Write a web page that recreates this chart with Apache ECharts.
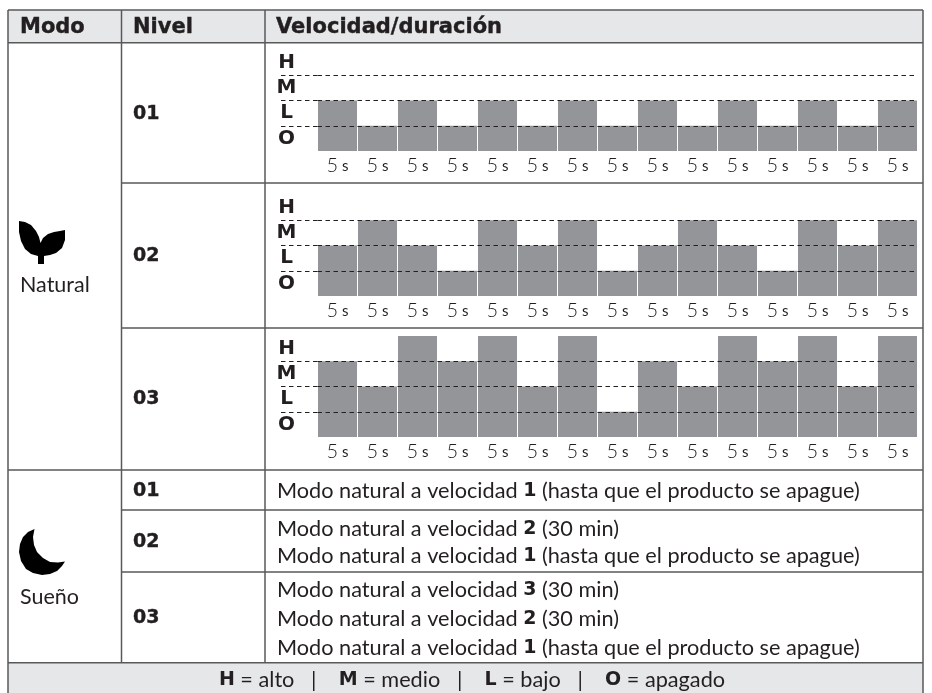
<!DOCTYPE html>
<html><head><meta charset="utf-8">
<style>html,body{margin:0;padding:0;background:#fff}#c{width:932px;height:693px}</style>
<script src="https://cdn.jsdelivr.net/npm/echarts@6/dist/echarts.min.js"></script>
</head><body><div id="c"></div>
<script>
// Data
const intervals = ['5 s','5 s','5 s','5 s','5 s','5 s','5 s','5 s','5 s','5 s','5 s','5 s','5 s','5 s','5 s'];
const speedLevels = ['O','L','M','H'];
const natural01 = [2,1,2,1,2,1,2,1,2,1,2,1,2,1,2];
const natural02 = [2,3,2,1,3,2,3,1,2,3,2,1,3,2,3];
const natural03 = [3,2,4,3,4,2,4,1,3,2,4,3,4,2,4];
const headers = ['Modo','Nivel','Velocidad/duración'];
const levelNames = ['01','02','03'];
const sueno01 = [['Modo natural a velocidad ','1',' (hasta que el producto se apague)']];
const sueno02 = [['Modo natural a velocidad ','2',' (30 min)'],['Modo natural a velocidad ','1',' (hasta que el producto se apague)']];
const sueno03 = [['Modo natural a velocidad ','3',' (30 min)'],['Modo natural a velocidad ','2',' (30 min)'],['Modo natural a velocidad ','1',' (hasta que el producto se apague)']];

const REG = 'Lato, "Noto Sans", sans-serif';
const BOLD = '"DejaVu Sans", sans-serif';
const INK = '#231f20', RULE = '#58595b', BAR = '#939598', FILL = '#e6e7e8';
const DASH = [4.5,3.5];

const chart = echarts.init(document.getElementById('c'), null, {renderer:'canvas'});

// panel geometry
const panels = [
  {data:natural01, top:50, bottom:151},
  {data:natural02, top:195, bottom:296},
  {data:natural03, top:336, bottom:437}
];
const grid=[], xAxis=[], yAxis=[], series=[];
panels.forEach((p,i)=>{
  grid.push({left:317.5, width:600, top:p.top, height:p.bottom-p.top, containLabel:false});
  xAxis.push({type:'category', gridIndex:i, data:intervals,
    axisLine:{show:false}, axisTick:{show:false},
    axisLabel:{show:true, interval:0, margin:5, color:INK, fontFamily:REG, fontSize:15, fontWeight:300,
      formatter:v=>{const a=v.split(' ');return '{n|'+a[0]+'} {s|'+a[1]+'}';},
      rich:{n:{fontFamily:REG,fontSize:20,fontWeight:300,color:INK},s:{fontFamily:REG,fontSize:15,fontWeight:400,color:INK}}}});
  // value axis: level scale, dashed rules
  yAxis.push({type:'value', gridIndex:i, min:0, max:4, interval:1, z:5,
    axisLine:{show:false}, axisLabel:{show:false},
    axisTick:{show:true, length:40, customValues:[1,2,3], lineStyle:{color:INK,type:DASH,width:1}},
    splitLine:{show:true, showMinLine:true, showMaxLine:true, lineStyle:{color:INK,type:DASH,width:1}}});
  // category axis: the H M L O labels
  yAxis.push({type:'category', gridIndex:i, data:speedLevels, position:'left', offset:31,
    axisLine:{show:false}, axisTick:{show:false}, splitLine:{show:false},
    axisLabel:{show:true, interval:0, hideOverlap:false, margin:0, width:16, align:'center', color:INK, fontFamily:BOLD, fontWeight:'bold', fontSize:20, lineHeight:20, padding:[4,0,0,0]}});
  series.push({type:'bar', xAxisIndex:i, yAxisIndex:i*2, data:p.data, barCategoryGap:'2.5%',
    itemStyle:{color:BAR}, silent:true, animation:false});
});

// Table framework and text
const g=[];
function rule(x1,y1,x2,y2,w){g.push({type:'line',shape:{x1,y1,x2,y2},style:{stroke:RULE,lineWidth:w||1.5},z:20,silent:true});}
function box(x,y,w,h,fill){g.push({type:'rect',shape:{x,y,width:w,height:h},style:{fill},z:-10,silent:true});}
function text(x,y,t,font,size,weight,heavy){g.push({type:'text',x,y,z:20,silent:true,style:{text:t,fill:INK,fontFamily:font,fontSize:size,fontWeight:weight||'normal',align:'left',verticalAlign:'middle',stroke:heavy?INK:null,lineWidth:heavy?0.4:0}});}

box(8,10,915,33,FILL);
box(8,663,915,30,FILL);
const L=8,R=923,C1=121.5,C2=265;
[10,42.7,470,662.7].forEach(y=>rule(L,y,R,y));
[183,328,510,572].forEach(y=>rule(C1,y,R,y));
rule(L,10,L,693);rule(R,10,R,693);
rule(C1,10,C1,662.7);rule(C2,10,C2,662.7);

text(20,28,headers[0],BOLD,21,'bold',true);
text(133,28,headers[1],BOLD,21,'bold',true);
text(276,28,headers[2],BOLD,21,'bold',true);
[114,256,399].forEach((y,i)=>text(133,y,levelNames[i],BOLD,19,'bold',true));
[491,542,618].forEach((y,i)=>text(133,y,levelNames[i],BOLD,19,'bold',true));
text(20,285,'Natural',REG,21.5,400);
text(20,597,'Sueño',REG,21.5,400);

// icons
g.push({type:'polygon',z:20,silent:true,shape:{points:[[19,221],[25,222],[31,225],[36,231],[39,237],[40.5,243],[43,238],[48,234],[54,232],[60,231],[65,230],[65,240],[62,248],[56,253],[50,255],[44,256],[44,264],[38,264],[38,256],[31,254],[25,249],[21,241],[19,232]]},style:{fill:'#000'}});
g.push({type:'polygon',z:20,silent:true,shape:{points:[[34.5,529],[28,532],[23,537],[20,544],[19,552],[21,561],[26,569],[33,573],[42,575],[50,574],[57,571],[62,566],[65,561.5],[58,562.5],[50,562],[43,558],[37,552],[34,545],[33,537]]},style:{fill:'#000'}});

// Sleep-mode text lines
const richStyles={a:{fontFamily:REG,fontSize:21.7,fontWeight:400,fill:INK},b:{fontFamily:BOLD,fontSize:19,fontWeight:'bold',fill:INK}};
function richLine(x,y,parts){g.push({type:'text',x,y,z:20,silent:true,style:{
  text:'{a|'+parts[0]+'}{b|'+parts[1]+'}{a|'+parts[2]+'}',verticalAlign:'middle',rich:richStyles}});}
richLine(277,491,sueno01[0]);
richLine(277,529,sueno02[0]);richLine(277,556,sueno02[1]);
richLine(277,590,sueno03[0]);richLine(277,619,sueno03[1]);richLine(277,648,sueno03[2]);

// Legend line
const legendParts=[['H',' = alto   |    '],['M',' = medio   |    '],['L',' = bajo   |    '],['O',' = apagado']];
g.push({type:'text',x:472,y:680,z:20,silent:true,style:{align:'center',verticalAlign:'middle',
  text:legendParts.map(p=>'{b|'+p[0]+'}{a|'+p[1]+'}').join(''),rich:richStyles}});

chart.setOption({animation:false, backgroundColor:'#fff', grid, xAxis, yAxis, series, graphic:{elements:g}});
</script></body></html>
